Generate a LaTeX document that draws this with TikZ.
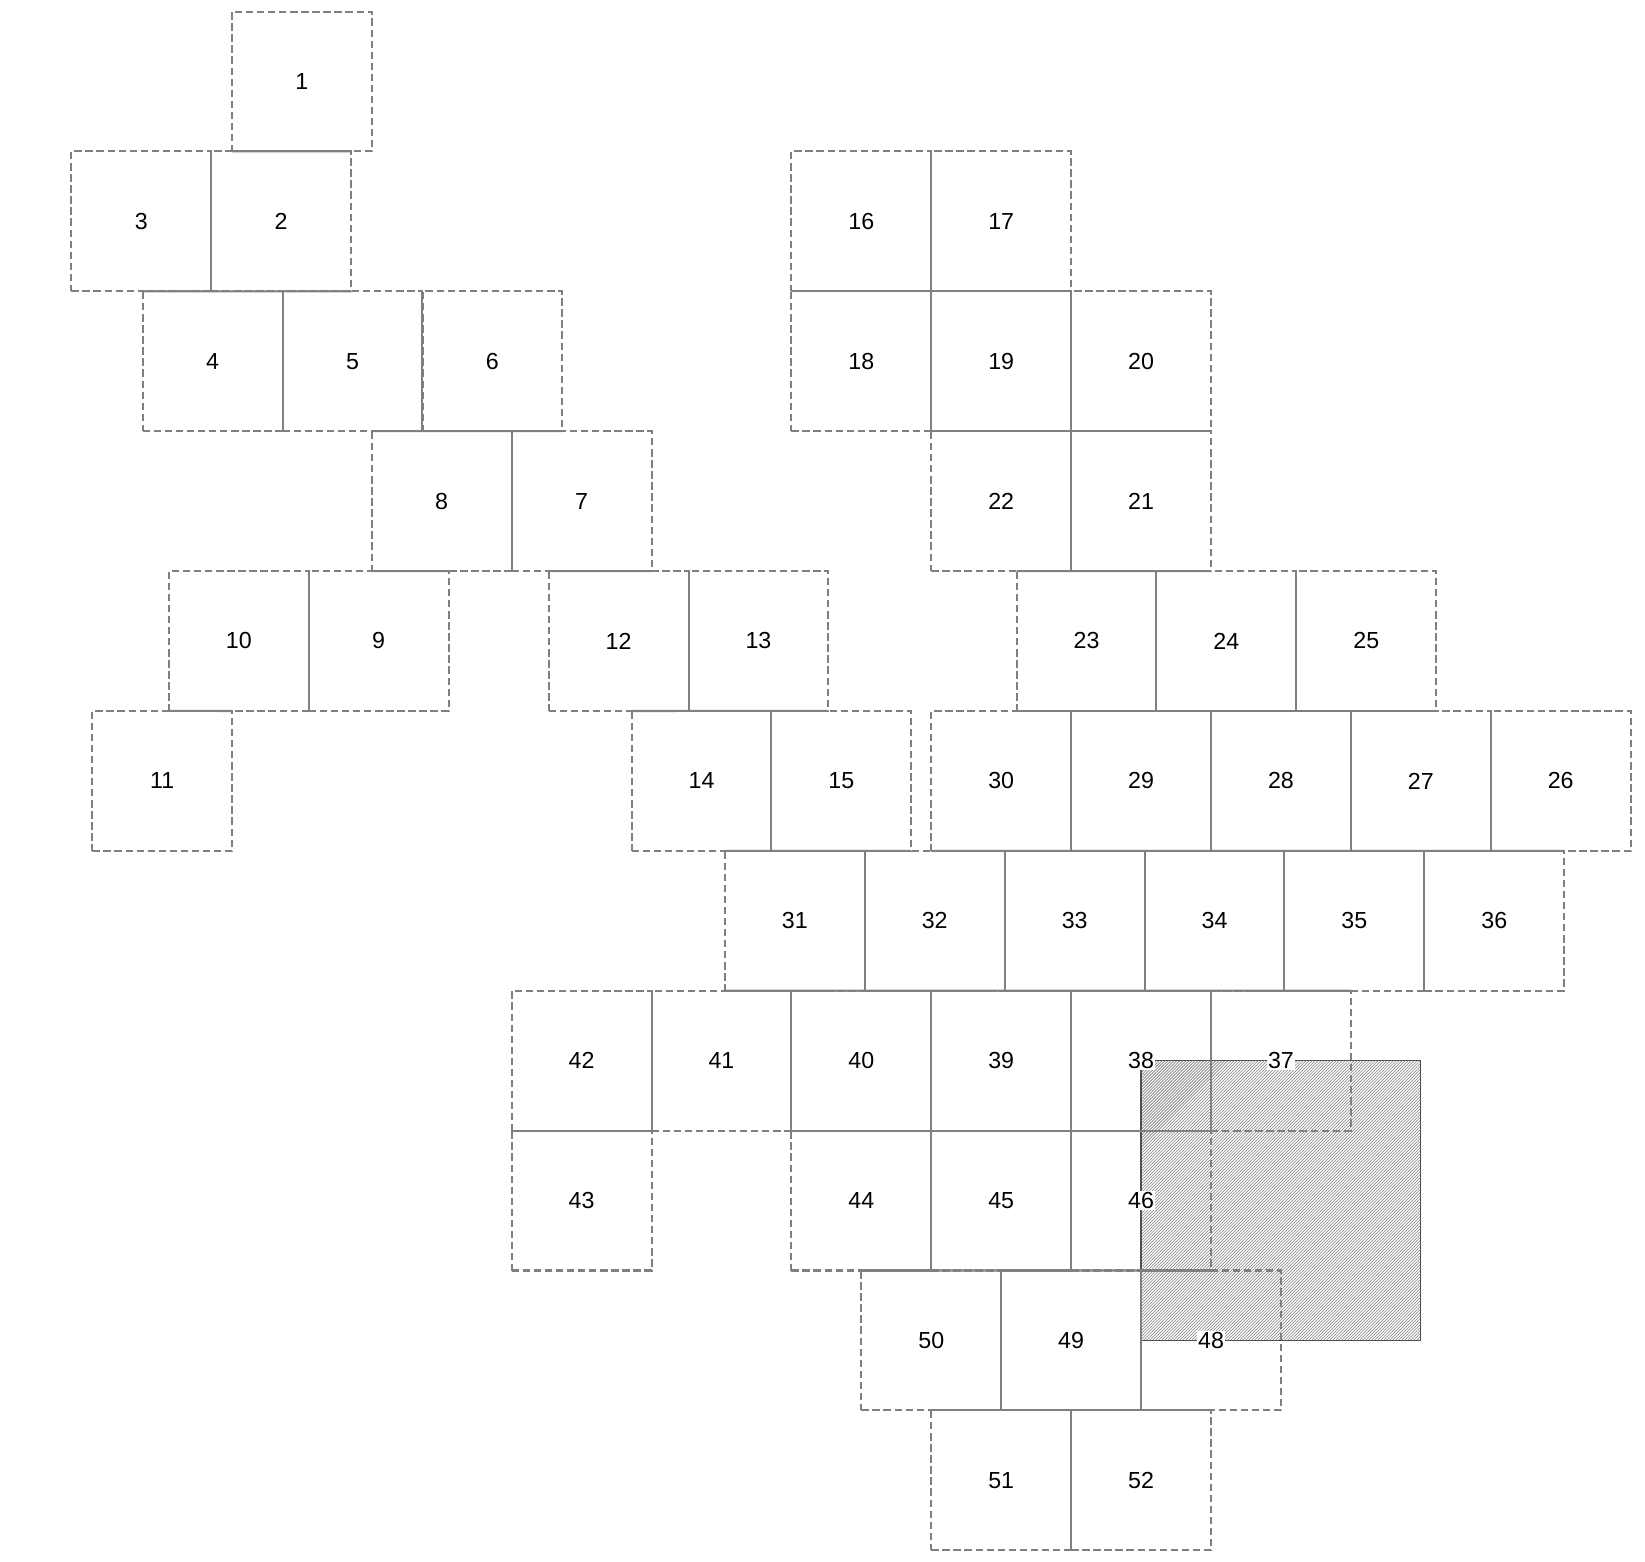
\documentclass[tikz,border=0pt]{standalone}
\usepackage{fontspec}
\setmainfont{Liberation Sans}
\definecolor{edge}{RGB}{128,128,128}
\definecolor{hatchedge}{RGB}{80,80,80}
\definecolor{hatchline}{RGB}{125,125,125}
\newcommand\sqr[3]{\node[sq,label={[lab]center:#1}] (s#1) at (#2+66.667,#3+66.667) {};}
\begin{document}
\begin{tikzpicture}[x=0.02cm,y=-0.02cm,
  sq/.style={draw=edge, line width=1.1pt, dash pattern=on 4pt off 2pt,
    minimum size=2.66667cm, inner sep=0pt, outer sep=0pt},
  lab/.style={fill=white, inner sep=0.6pt, text=black,
    font=\fontsize{12.6}{14}\selectfont},
  shared/.style={draw=edge, line width=1.1pt},
  hatchln/.style={draw=hatchline, line width=0.35pt},
  hatchbox/.style={draw=hatchedge, line width=0.7pt}]
\useasboundingbox (0,0) rectangle (1568,1488);
% hatched area
\begin{scope}
  \clip (1087.7,1011) rectangle (1354.3,1277.7);
  \foreach \i in {0,...,188}
    \draw[hatchln] (820.9+\i*2.86,1277.7) -- ++(266.7,-266.7);
\end{scope}
\draw[hatchbox] (1087.7,1011) rectangle (1354.3,1277.7);
% squares
\sqr{1}{221}{11}
\sqr{3}{68}{144.3}
\sqr{2}{201.3}{144.3}
\sqr{4}{136}{277.7}
\sqr{5}{269.3}{277.7}
\sqr{6}{402.7}{277.7}
\sqr{8}{354.3}{411}
\sqr{7}{487.7}{411}
\sqr{10}{161}{544.3}
\sqr{9}{294.3}{544.3}
\sqr{12}{523}{544.3}
\sqr{13}{656.3}{544.3}
\sqr{11}{88}{677.7}
\sqr{14}{602}{677.7}
\sqr{15}{735.3}{677.7}
\sqr{16}{754.3}{144.3}
\sqr{17}{887.7}{144.3}
\sqr{18}{754.3}{277.7}
\sqr{19}{887.7}{277.7}
\sqr{20}{1021}{277.7}
\sqr{22}{887.7}{411}
\sqr{21}{1021}{411}
\sqr{23}{969}{544.3}
\sqr{24}{1102.3}{544.3}
\sqr{25}{1235.7}{544.3}
\sqr{30}{887.7}{677.7}
\sqr{29}{1021}{677.7}
\sqr{28}{1154.3}{677.7}
\sqr{27}{1287.7}{677.7}
\sqr{26}{1421}{677.7}
\sqr{31}{691}{811}
\sqr{32}{824.3}{811}
\sqr{33}{957.7}{811}
\sqr{34}{1091}{811}
\sqr{35}{1224.3}{811}
\sqr{36}{1357.7}{811}
\sqr{42}{487.7}{944.3}
\sqr{41}{621}{944.3}
\sqr{40}{754.3}{944.3}
\sqr{39}{887.7}{944.3}
\sqr{38}{1021}{944.3}
\sqr{37}{1154.3}{944.3}
\sqr{43}{487.7}{1077.7}
\sqr{44}{754.3}{1077.7}
\sqr{45}{887.7}{1077.7}
\sqr{46}{1021}{1077.7}
\sqr{50}{821}{1211}
\sqr{49}{954.3}{1211}
\sqr{48}{1087.7}{1211}
\sqr{51}{887.7}{1344.3}
\sqr{52}{1021}{1344.3}
% shared vertical edges
\foreach \n in {3,16,4,5,18,19,8,22,10,12,23,24,14,30,29,28,27,31,32,33,34,35,42,41,40,39,38,44,45,50,49,51}
  \draw[shared] (s\n.north east) -- (s\n.south east);
% shared horizontal edges
\draw[shared] (s1.south west) -- (s2.north east);
\draw[shared] (s4.north west) -- (s2.south east);
\draw[shared] (s18.north west) -- (s19.north east);
\draw[shared] (s8.north west) -- (s6.south east);
\draw[shared] (s22.north west) -- (s21.north east);
\draw[shared] (s8.south west) -- (s9.north east);
\draw[shared] (s12.north west) -- (s7.south east);
\draw[shared] (s23.north west) -- (s21.south east);
\draw[shared] (s10.south west) -- (s11.north east);
\draw[shared] (s14.north west) -- (s13.south east);
\draw[shared] (s23.south west) -- (s25.south east);
\draw[shared] (s31.north west) -- (s15.south east);
\draw[shared] (s30.south west) -- (s36.north east);
\draw[shared] (s31.south west) -- (s37.north east);
\draw[shared] (s43.north west) -- (s43.north east);
\draw[shared] (s44.north west) -- (s46.north east);
\draw[shared] (s50.north west) -- (s46.south east);
\draw[shared] (s51.north west) -- (s52.north east);
\end{tikzpicture}
\end{document}
